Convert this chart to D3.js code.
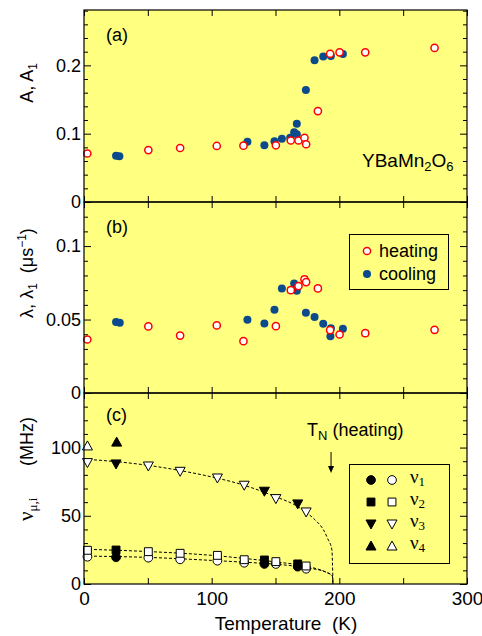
<!DOCTYPE html>
<html><head><meta charset="utf-8">
<script src="https://cdn.jsdelivr.net/npm/d3@7"></script>
<style>body{margin:0;background:#fff}svg{display:block}</style>
</head><body>
<script>
// ---------- data ----------
const tempHeat = [2.6,50.4,75.3,104,124.9,150.3,162,168,172.7,174,183.2,192.8,200.2,220.3,274.6];
const aHeat = [0.071,0.076,0.079,0.082,0.0825,0.083,0.090,0.090,0.094,0.0845,0.133,0.217,0.219,0.219,0.2255];
const tempCoolA = [25.1,27.7,128,141.3,149.2,155,161.5,164.6,166.7,166.7,173.8,180.6,187.4,193.4,202.8];
const aCool = [0.0678,0.067,0.0883,0.083,0.089,0.0927,0.094,0.102,0.099,0.1147,0.164,0.2074,0.2128,0.2138,0.2167];

const lamHeat = [0.0364,0.0453,0.0391,0.046,0.0353,0.0455,0.070,0.0728,0.0773,0.0755,0.0712,0.0428,0.0398,0.0407,0.043];
const lamHeatErr = [0,0,0.001,0,0,0,0.0018,0.0012,0.0018,0.0012,0.0015,0.0015,0,0.0018,0];
const tempCoolB = [25.1,28,128,141.3,149.2,155,164.6,166.7,173.8,180.6,187.4,193.4,193,202.8];
const lamCool = [0.0484,0.0478,0.0498,0.0473,0.0566,0.0712,0.0746,0.0696,0.0546,0.0518,0.0471,0.0441,0.0387,0.0437];

const tempHeatC = [2.7,50.4,75.3,104.5,125.5,150.3,174];
const nu1Heat = [20,19.3,18.1,17.1,15.6,14.7,11.2];
const nu2Heat = [24.7,23.7,22.5,21,17.8,16.4,13.2];
const nu3Heat = [89,86.5,82.6,77.7,72.4,62.6,52.8];
const tempCoolC = [25.1,141.3,167.4];
const nu1Cool = [19.6,14.7,12.7];
const nu2Cool = [24.9,17.6,14.7];
const nu3Cool = [88,68,58.7];
const tempNu4Heat = [2.7], nu4Heat = [101.2];
const tempNu4Cool = [25.6], nu4Cool = [104];

const fitT3 = [0,25,50,75,100,125,150,167,174,181,187.6,191,194.2,195];
const fitNu3 = [91.5,89.7,87,83.2,78.5,72.5,64,57,52.5,47,39.6,33,25,0];
const fitT2 = [0,50,100,125,150,175,190,194.5,195];
const fitNu2 = [25.5,23.8,21,18.8,16.2,12.8,8.5,6,0];
const fitT1 = [0,50,100,125,150,175,190,194.5,195];
const fitNu1 = [20.5,19.5,17.3,16,14.5,11.8,8.5,6,0];

const xTicks = [0,50,100,150,200,250,300];
const xLabels = [0,100,200,300];
const aMajor = [0,0.1,0.2], bMajor = [0,0.05,0.1], cMajor = [0,50,100];

// ---------- layout ----------
const W = 482, H = 636, L = 84, R = 467;
const SANS = "Liberation Sans, Arial, sans-serif", SERIF = "Liberation Serif, Times New Roman, serif";
const BG = "#ffff80", BLUE = "#0b4a8c", RED = "#ff0000";
const svg = d3.select("body").append("svg").attr("width", W).attr("height", H).attr("font-family", SANS);

const x = d3.scaleLinear().domain([0,300]).range([L,R]);
const panels = [
  {y: d3.scaleLinear().domain([0,0.281]).range([202,10]), major: aMajor, minorStep: 0.02, fmt: d => d===0?"0":d3.format(".1f")(d)},
  {y: d3.scaleLinear().domain([0,0.13]).range([393,202]), major: bMajor, minorStep: 0.01, fmt: d => d===0?"0":(d===0.1?"0.1":"0.05")},
  {y: d3.scaleLinear().domain([0,140]).range([584,393]), major: cMajor, minorStep: 10, fmt: d => String(d)}
];

panels.forEach(p => {
  const [y0, y1] = p.y.range();
  svg.append("rect").attr("x", L).attr("y", y1).attr("width", R-L).attr("height", y0-y1).attr("fill", BG);
});

panels.forEach(p => {
  const [y0, y1] = p.y.range();
  const dom = p.y.domain();
  const minor = d3.range(0, dom[1]+1e-9, p.minorStep).map(v => +v.toFixed(4)).filter(v => !p.major.some(m => Math.abs(m-v)<1e-9));
  const g = svg.append("g");
  const clean = s => s.select(".domain").remove();
  g.append("g").attr("transform", `translate(${L},0)`).call(d3.axisLeft(p.y).tickValues(p.major).tickSize(-7).tickPadding(3).tickFormat(p.fmt)).call(clean)
    .attr("font-family", SANS).attr("font-size", 18);
  g.append("g").attr("transform", `translate(${L},0)`).call(d3.axisLeft(p.y).tickValues(minor).tickSize(-4).tickFormat("")).call(clean);
  g.append("g").attr("transform", `translate(${R},0)`).call(d3.axisRight(p.y).tickValues(p.major).tickSize(-7).tickFormat("")).call(clean);
  g.append("g").attr("transform", `translate(${R},0)`).call(d3.axisRight(p.y).tickValues(minor).tickSize(-4).tickFormat("")).call(clean);
  g.append("g").attr("transform", `translate(0,${y0})`).call(d3.axisBottom(x).tickValues(xTicks).tickSize(-6).tickFormat("")).call(clean);
  g.append("g").attr("transform", `translate(0,${y1})`).call(d3.axisTop(x).tickValues(xTicks).tickSize(-6).tickFormat("")).call(clean);
  g.selectAll("line").attr("stroke", "#000").attr("stroke-width", 1);
});

// x labels on bottom panel
const pc = panels[2];
svg.append("g").attr("transform", `translate(0,${pc.y.range()[0]})`)
  .call(d3.axisBottom(x).tickValues(xLabels).tickSize(0).tickPadding(8).tickFormat(d3.format("d")))
  .call(s => s.select(".domain").remove())
  .attr("font-family", SANS).attr("font-size", 19);

// ---------- panel (a) ----------
const ya = panels[0].y, yb = panels[1].y, yc = panels[2].y;
function dots(data, yS, filled) {
  svg.append("g").selectAll("circle").data(data).join("circle")
    .attr("cx", d => x(d[0])).attr("cy", d => yS(d[1])).attr("r", filled ? 4 : 3.6)
    .attr("fill", filled ? BLUE : "#fff").attr("stroke", filled ? "none" : RED).attr("stroke-width", 1.5);
}
dots(d3.zip(tempCoolA, aCool), ya, true);
dots(d3.zip(tempHeat, aHeat), ya, false);

// ---------- panel (b) ----------
dots(d3.zip(tempCoolB, lamCool), yb, true);
const errData = d3.zip(tempHeat, lamHeat, lamHeatErr).filter(d => d[2] > 0);
const eg = svg.append("g").attr("stroke", RED).attr("stroke-width", 1.2);
errData.forEach(d => {
  eg.append("line").attr("x1", x(d[0])).attr("x2", x(d[0])).attr("y1", yb(d[1]-d[2])).attr("y2", yb(d[1]+d[2]));
  [d[1]-d[2], d[1]+d[2]].forEach(v => eg.append("line").attr("x1", x(d[0])-3.5).attr("x2", x(d[0])+3.5).attr("y1", yb(v)).attr("y2", yb(v)));
});
dots(d3.zip(tempHeat, lamHeat), yb, false);

// ---------- panel (c) ----------
const line = d3.line().x(d => x(d[0])).y(d => yc(d[1])).curve(d3.curveMonotoneX);
[[fitT3, fitNu3],[fitT2, fitNu2],[fitT1, fitNu1]].forEach(([t, v]) => {
  svg.append("path").attr("d", line(d3.zip(t, v))).attr("fill", "none").attr("stroke", "#000").attr("stroke-width", 1).attr("stroke-dasharray", "3,2");
});
const symCircle = d3.symbol(d3.symbolCircle, 60)();
const symSquare = d3.symbol(d3.symbolSquare, 62)();
const triDown = "M-5,-4L5,-4L0,5Z";
const triUp = "M-5,4L5,4L0,-5Z";
function marks(t, v, path, filled) {
  svg.append("g").selectAll("path").data(d3.zip(t, v)).join("path")
    .attr("d", path).attr("transform", d => `translate(${x(d[0])},${yc(d[1])})`)
    .attr("fill", filled ? "#000" : "#fff").attr("stroke", "#000").attr("stroke-width", 1);
}
marks(tempCoolC, nu1Cool, symCircle, true);
marks(tempCoolC, nu2Cool, symSquare, true);
marks(tempCoolC, nu3Cool, triDown, true);
marks(tempNu4Cool, nu4Cool, triUp, true);
marks(tempHeatC, nu1Heat, symCircle, false);
marks(tempHeatC, nu2Heat, symSquare, false);
marks(tempHeatC, nu3Heat, triDown, false);
marks(tempNu4Heat, nu4Heat, triUp, false);

// ---------- text ----------
const FS = 18;
svg.append("text").attr("x", 106).attr("y", 41).attr("font-size", FS).text("(a)");
svg.append("text").attr("x", 106).attr("y", 233).attr("font-size", FS).text("(b)");
svg.append("text").attr("x", 106).attr("y", 421).attr("font-size", FS).text("(c)");

const yb6 = svg.append("text").attr("x", 362).attr("y", 167).attr("font-size", 19);
yb6.append("tspan").text("YBaMn");
yb6.append("tspan").attr("font-size", 13).attr("dy", 4).text("2");
yb6.append("tspan").attr("dy", -4).text("O");
yb6.append("tspan").attr("font-size", 13).attr("dy", 4).text("6");

// y titles
const ta = svg.append("text").attr("transform", "translate(33,83) rotate(-90)").attr("text-anchor", "middle").attr("font-size", FS);
ta.append("tspan").text("A, A");
ta.append("tspan").attr("font-size", 12).attr("dy", 4).text("1");

const tb = svg.append("text").attr("transform", "translate(33,273) rotate(-90)").attr("text-anchor", "middle").attr("font-size", FS);
tb.append("tspan").text("λ, λ");
tb.append("tspan").attr("font-size", 12).attr("dy", 4).text("1");
tb.append("tspan").attr("dy", -4).text("\u00a0\u00a0(μs");
tb.append("tspan").attr("font-size", 12).attr("dy", -7).text("−1");
tb.append("tspan").attr("dy", 7).text(")");

const tc1 = svg.append("text").attr("transform", "translate(33,521) rotate(-90)").attr("font-size", FS);
tc1.append("tspan").attr("font-family", SERIF).attr("font-size", 21).text("ν");
tc1.append("tspan").attr("font-family", SERIF).attr("font-size", 13).attr("dy", 4).text("μ,i");
svg.append("text").attr("transform", "translate(33,466) rotate(-90)").attr("font-size", FS).text("(MHz)");

svg.append("text").attr("x", 286).attr("y", 630).attr("text-anchor", "middle").attr("font-size", 19).text("Temperature\u00a0\u00a0(K)");

// T_N annotation
const tn = svg.append("text").attr("x", 307).attr("y", 436).attr("font-size", FS);
tn.append("tspan").text("T");
tn.append("tspan").attr("font-size", 13).attr("dy", 4).text("N");
tn.append("tspan").attr("dy", -4).text(" (heating)");
const tnX = x(193.5);
svg.append("line").attr("x1", tnX).attr("x2", tnX).attr("y1", 452).attr("y2", 467).attr("stroke", "#000").attr("stroke-width", 1);
svg.append("path").attr("d", `M${tnX-3},466L${tnX+3},466L${tnX},473Z`).attr("fill", "#000");

// legend (b)
svg.append("rect").attr("x", 349.5).attr("y", 234.5).attr("width", 99).attr("height", 55).attr("fill", "none").attr("stroke", "#000");
const legB = [["heating", false], ["cooling", true]];
legB.forEach(([lab, filled], i) => {
  const yy = 251 + i*23;
  svg.append("circle").attr("cx", 367).attr("cy", yy).attr("r", filled ? 4 : 3.6)
    .attr("fill", filled ? BLUE : "#fff").attr("stroke", filled ? "none" : RED).attr("stroke-width", 1.5);
  svg.append("text").attr("x", 379).attr("y", yy + 6).attr("font-size", FS).text(lab);
});

// legend (c)
svg.append("rect").attr("x", 349.5).attr("y", 464.5).attr("width", 100).attr("height", 99).attr("fill", "none").attr("stroke", "#000");
const legC = [symCircle, symSquare, triDown, triUp];
legC.forEach((p, i) => {
  const yy = 480 + i*22;
  svg.append("path").attr("d", p).attr("transform", `translate(371,${yy})`).attr("fill", "#000").attr("stroke", "#000");
  svg.append("path").attr("d", p).attr("transform", `translate(392,${yy})`).attr("fill", "#fff").attr("stroke", "#000");
  const t = svg.append("text").attr("x", 410).attr("y", yy + 3).attr("font-size", 19).attr("font-family", SERIF);
  t.append("tspan").text("ν");
  t.append("tspan").attr("font-size", 13).attr("dy", 3).text(String(i+1));
});

// frames
panels.forEach(p => {
  const [y0, y1] = p.y.range();
  svg.append("rect").attr("x", L).attr("y", y1).attr("width", R-L).attr("height", y0-y1).attr("fill", "none").attr("stroke", "#000").attr("stroke-width", 1.2);
});
</script>
</body></html>
